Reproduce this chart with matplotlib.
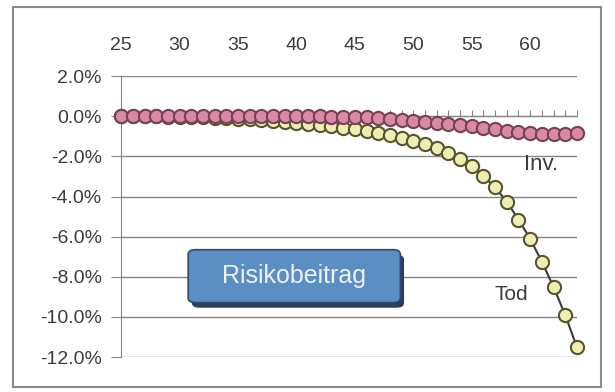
import matplotlib
matplotlib.use('Agg')
import matplotlib.pyplot as plt
from matplotlib.patches import Rectangle, FancyBboxPatch
from matplotlib.ticker import FuncFormatter

# Alter 25..64
alter = list(range(25, 65))

# Risikobeitrag Tod (in %)
tod = [0.0, 0.0, -0.01, -0.01, -0.02, -0.03, -0.04, -0.06, -0.08, -0.10,
       -0.13, -0.16, -0.19, -0.23, -0.27, -0.32, -0.37, -0.43, -0.50, -0.57,
       -0.65, -0.75, -0.85, -0.95, -1.08, -1.22, -1.38, -1.58, -1.85, -2.12,
       -2.50, -2.97, -3.55, -4.25, -5.15, -6.10, -7.25, -8.50, -9.90, -11.50]

# Risikobeitrag Invaliditaet (in %)
inv = [0.0, 0.0, 0.0, 0.0, 0.0, 0.0, 0.0, 0.0, 0.0, 0.0,
       0.0, 0.0, 0.0, 0.0, 0.0, 0.0, -0.01, -0.01, -0.02, -0.02,
       -0.03, -0.05, -0.08, -0.12, -0.17, -0.22, -0.27, -0.32, -0.37, -0.43,
       -0.50, -0.57, -0.65, -0.73, -0.80, -0.86, -0.90, -0.91, -0.88, -0.83]

x_labels = [25, 30, 35, 40, 45, 50, 55, 60]
y_ticks = [2, 0, -2, -4, -6, -8, -10, -12]

plt.rcParams['font.family'] = ['Liberation Sans', 'DejaVu Sans']
text_col = '#3c3c3c'
grid_col = '#858585'

fig = plt.figure(figsize=(6.15, 3.92), dpi=100)
ax = fig.add_axes([0.197, 0.089, 0.741, 0.717])

ax.plot(alter, tod, color='#3a3a3a', lw=1.5, marker='o', markersize=9.5,
        markerfacecolor='#eeedb4', markeredgecolor='#55552e', markeredgewidth=1.5,
        clip_on=False, zorder=3)
ax.plot(alter, inv, color='#6e3a50', lw=1.2, marker='o', markersize=9.5,
        markerfacecolor='#d68aa5', markeredgecolor='#7a4055', markeredgewidth=1.5,
        clip_on=False, zorder=4)

ax.set_xlim(25, 64)
ax.set_ylim(-12, 2)
ax.set_yticks(y_ticks)
ax.yaxis.set_major_formatter(FuncFormatter(lambda v, p: f'{v:.1f}%'))
ax.yaxis.grid(True, color=grid_col, lw=1.0)
ax.set_axisbelow(True)
ax.tick_params(axis='y', length=7, pad=7, color=grid_col, labelsize=14, labelcolor=text_col)

# Kategorieachse bei 0 mit kleinen Strichen, Beschriftung oben
ax.spines['bottom'].set_position(('data', 0))
ax.spines['bottom'].set_color(grid_col)
ax.spines['left'].set_color(grid_col)
ax.spines['top'].set_visible(False)
ax.spines['right'].set_visible(False)
ax.set_xticks(alter)
ax.tick_params(axis='x', direction='in', length=4, color=grid_col, labelbottom=False)

secax = ax.secondary_xaxis('top')
secax.set_xticks(x_labels)
secax.tick_params(length=0, pad=16, labelsize=14, labelcolor=text_col)
secax.spines['top'].set_visible(False)

ax.text(60.9, -2.4, 'Inv.', fontsize=16, color=text_col, ha='center', va='center')
ax.text(58.4, -8.9, 'Tod', fontsize=15, color=text_col, ha='center', va='center')

# Kasten "Risikobeitrag"
fig.patches.append(FancyBboxPatch((0.312, 0.215), 0.345, 0.135,
                                  boxstyle='round,pad=0,rounding_size=0.012',
                                  transform=fig.transFigure, facecolor='#2b3f5c',
                                  edgecolor='none', zorder=5))
fig.patches.append(FancyBboxPatch((0.306, 0.228), 0.345, 0.135,
                                  boxstyle='round,pad=0,rounding_size=0.012',
                                  transform=fig.transFigure, facecolor='#5b8ec3',
                                  edgecolor='#2e4a6e', lw=1.2, zorder=6))
fig.text(0.478, 0.296, 'Risikobeitrag', fontsize=18, color='#edf2f8',
         ha='center', va='center', zorder=7)

# Rahmen
fig.patches.append(Rectangle((13 / 615, 1 - 387 / 392), 588 / 615, 380 / 392,
                             transform=fig.transFigure, fill=False,
                             edgecolor='#8a8a8a', lw=1.5))

plt.savefig('out.png', dpi=100)
